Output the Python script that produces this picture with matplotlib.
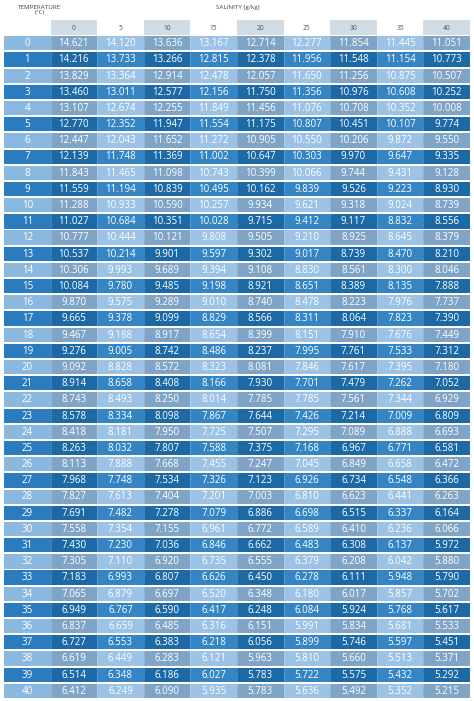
import matplotlib.pyplot as plt
from matplotlib.patches import Rectangle

plt.rcParams['font.family'] = ['Open Sans', 'DejaVu Sans']

salinity = [0, 5, 10, 15, 20, 25, 30, 35, 40]
temperature = list(range(41))
oxygen = [
    [14.621, 14.120, 13.636, 13.167, 12.714, 12.277, 11.854, 11.445, 11.051],
    [14.216, 13.733, 13.266, 12.815, 12.378, 11.956, 11.548, 11.154, 10.773],
    [13.829, 13.364, 12.914, 12.478, 12.057, 11.650, 11.256, 10.875, 10.507],
    [13.460, 13.011, 12.577, 12.156, 11.750, 11.356, 10.976, 10.608, 10.252],
    [13.107, 12.674, 12.255, 11.849, 11.456, 11.076, 10.708, 10.352, 10.008],
    [12.770, 12.352, 11.947, 11.554, 11.175, 10.807, 10.451, 10.107, 9.774],
    [12.447, 12.043, 11.652, 11.272, 10.905, 10.550, 10.206, 9.872, 9.550],
    [12.139, 11.748, 11.369, 11.002, 10.647, 10.303, 9.970, 9.647, 9.335],
    [11.843, 11.465, 11.098, 10.743, 10.399, 10.066, 9.744, 9.431, 9.128],
    [11.559, 11.194, 10.839, 10.495, 10.162, 9.839, 9.526, 9.223, 8.930],
    [11.288, 10.933, 10.590, 10.257, 9.934, 9.621, 9.318, 9.024, 8.739],
    [11.027, 10.684, 10.351, 10.028, 9.715, 9.412, 9.117, 8.832, 8.556],
    [10.777, 10.444, 10.121, 9.808, 9.505, 9.210, 8.925, 8.645, 8.379],
    [10.537, 10.214, 9.901, 9.597, 9.302, 9.017, 8.739, 8.470, 8.210],
    [10.306, 9.993, 9.689, 9.394, 9.108, 8.830, 8.561, 8.300, 8.046],
    [10.084, 9.780, 9.485, 9.198, 8.921, 8.651, 8.389, 8.135, 7.888],
    [9.870, 9.575, 9.289, 9.010, 8.740, 8.478, 8.223, 7.976, 7.737],
    [9.665, 9.378, 9.099, 8.829, 8.566, 8.311, 8.064, 7.823, 7.390],
    [9.467, 9.188, 8.917, 8.654, 8.399, 8.151, 7.910, 7.676, 7.449],
    [9.276, 9.005, 8.742, 8.486, 8.237, 7.995, 7.761, 7.533, 7.312],
    [9.092, 8.828, 8.572, 8.323, 8.081, 7.846, 7.617, 7.395, 7.180],
    [8.914, 8.658, 8.408, 8.166, 7.930, 7.701, 7.479, 7.262, 7.052],
    [8.743, 8.493, 8.250, 8.014, 7.785, 7.785, 7.561, 7.344, 6.929],
    [8.578, 8.334, 8.098, 7.867, 7.644, 7.426, 7.214, 7.009, 6.809],
    [8.418, 8.181, 7.950, 7.725, 7.507, 7.295, 7.089, 6.888, 6.693],
    [8.263, 8.032, 7.807, 7.588, 7.375, 7.168, 6.967, 6.771, 6.581],
    [8.113, 7.888, 7.668, 7.455, 7.247, 7.045, 6.849, 6.658, 6.472],
    [7.968, 7.748, 7.534, 7.326, 7.123, 6.926, 6.734, 6.548, 6.366],
    [7.827, 7.613, 7.404, 7.201, 7.003, 6.810, 6.623, 6.441, 6.263],
    [7.691, 7.482, 7.278, 7.079, 6.886, 6.698, 6.515, 6.337, 6.164],
    [7.558, 7.354, 7.155, 6.961, 6.772, 6.589, 6.410, 6.236, 6.066],
    [7.430, 7.230, 7.036, 6.846, 6.662, 6.483, 6.308, 6.137, 5.972],
    [7.305, 7.110, 6.920, 6.735, 6.555, 6.379, 6.208, 6.042, 5.880],
    [7.183, 6.993, 6.807, 6.626, 6.450, 6.278, 6.111, 5.948, 5.790],
    [7.065, 6.879, 6.697, 6.520, 6.348, 6.180, 6.017, 5.857, 5.702],
    [6.949, 6.767, 6.590, 6.417, 6.248, 6.084, 5.924, 5.768, 5.617],
    [6.837, 6.659, 6.485, 6.316, 6.151, 5.991, 5.834, 5.681, 5.533],
    [6.727, 6.553, 6.383, 6.218, 6.056, 5.899, 5.746, 5.597, 5.451],
    [6.619, 6.449, 6.283, 6.121, 5.963, 5.810, 5.660, 5.513, 5.371],
    [6.514, 6.348, 6.186, 6.027, 5.783, 5.722, 5.575, 5.432, 5.292],
    [6.412, 6.249, 6.090, 5.935, 5.783, 5.636, 5.492, 5.352, 5.215],
]

light = {'label': '#8bb8de', 'even': '#7fa4c6', 'odd': '#9cc3e5'}
dark = {'label': '#2b7bbf', 'even': '#1d69a6', 'odd': '#3585c4'}

fig = plt.figure(figsize=(4.74, 7.01), dpi=100)
ax = fig.add_axes([4 / 474, 1 - 700 / 701, 466 / 474, 680 / 701])
nrows = len(temperature) + 1
ax.set_xlim(0, len(salinity) + 1)
ax.set_ylim(nrows, 0)
ax.axis('off')

# header row
for j, s in enumerate(salinity):
    if j % 2 == 0:
        ax.add_patch(Rectangle((j + 1, 0.02), 1, 0.9, color='#d2dce5', lw=0))
    ax.text(j + 1.5, 0.5, str(s), ha='center', va='center', fontsize=4.8, color='#555555')

for i, t in enumerate(temperature):
    y = i + 1
    pal = light if i % 2 == 0 else dark
    ax.add_patch(Rectangle((0, y), 1, 0.88, color=pal['label'], lw=0))
    ax.text(0.5, y + 0.46, str(t), ha='center', va='center', fontsize=7, color='white')
    for j, v in enumerate(oxygen[i]):
        c = pal['even'] if j % 2 == 0 else pal['odd']
        ax.add_patch(Rectangle((j + 1, y), 1, 0.88, color=c, lw=0))
        ax.text(j + 1.5, y + 0.46, f'{v:.3f}', ha='center', va='center', fontsize=7, color='white')

# dotted separators between data columns
for j in range(1, len(salinity) + 1):
    ax.plot([j, j], [1, nrows], color='white', lw=0.5, ls=(0, (1, 1.5)), alpha=0.6)

fig.text(40 / 474, 1 - 10 / 701, 'TEMPERATURE\n(°C)', ha='center', va='center',
         fontsize=4.5, color='#444444', linespacing=1.1)
fig.text(238 / 474, 1 - 8 / 701, 'SALINITY (g/kg)', ha='center', va='center',
         fontsize=4.5, color='#444444')

fig.savefig('out.png', dpi=100, facecolor='white')
